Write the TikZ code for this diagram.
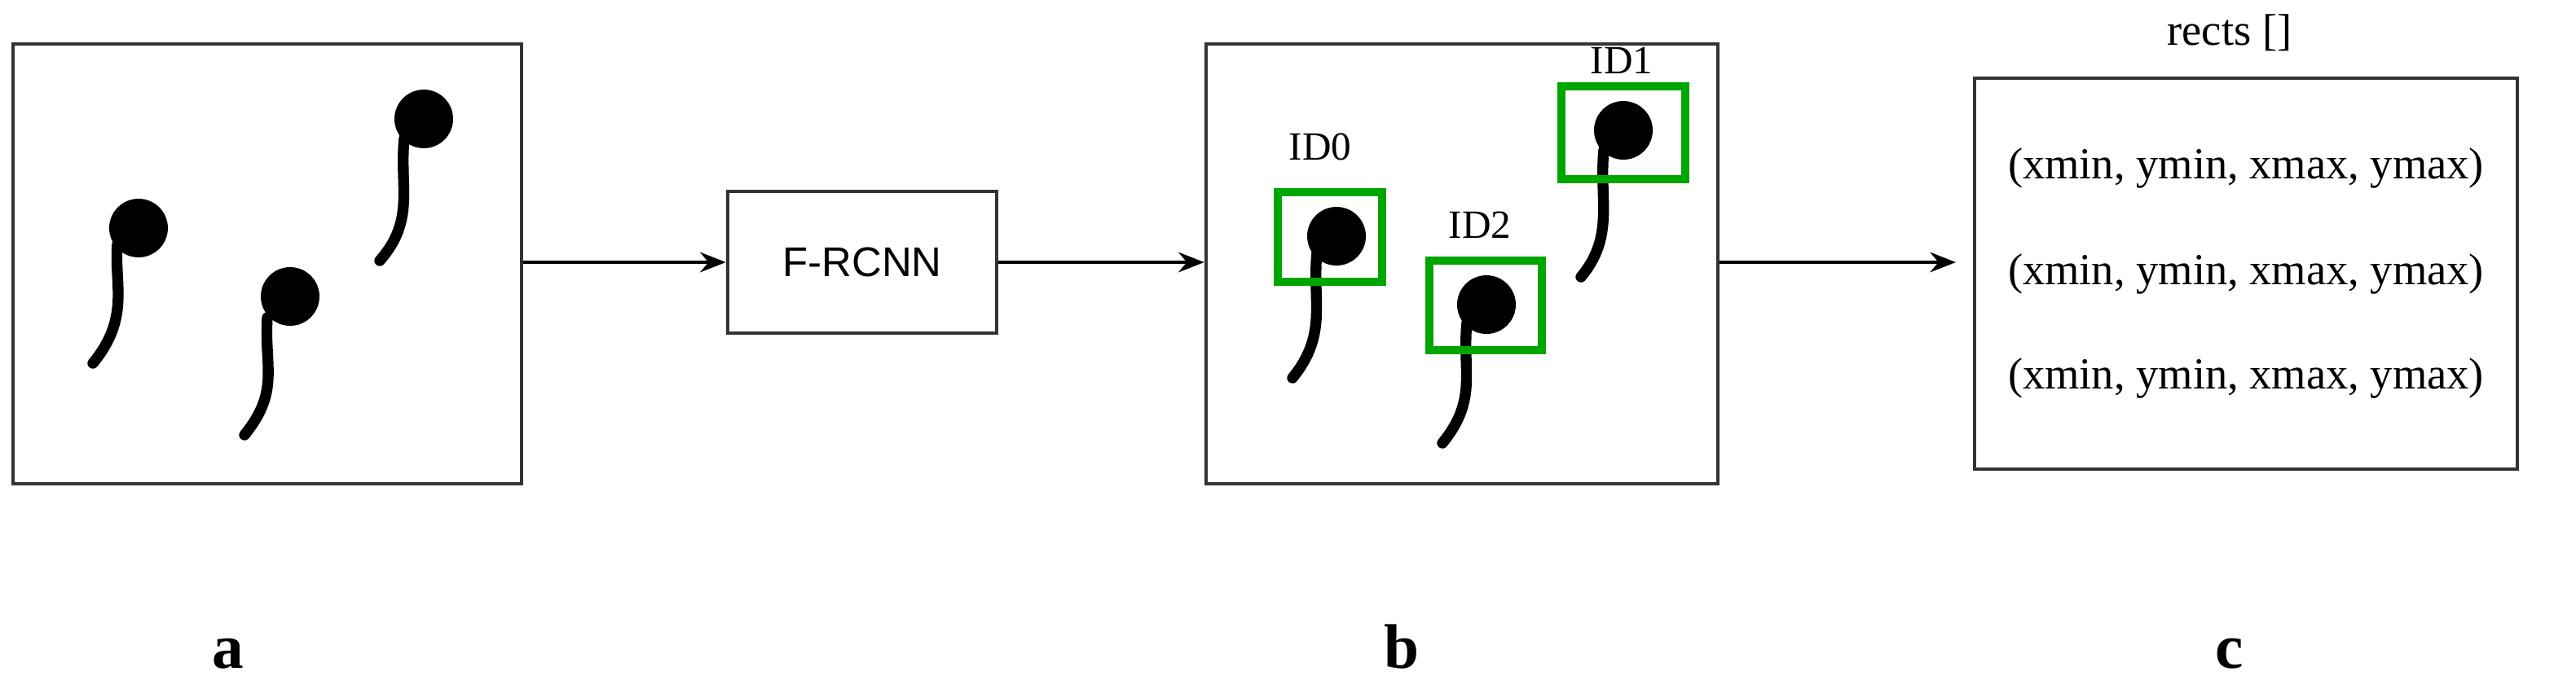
\documentclass[tikz,border=0pt]{standalone}
\usepackage{fontspec}
\setmainfont{Liberation Serif}
\newfontfamily\sansf{Liberation Sans}
\usetikzlibrary{arrows.meta}
\begin{document}
\begin{tikzpicture}[x=0.02cm,y=-0.02cm,
  frame/.style={draw=black!80,line width=1.3pt},
  arr/.style={-{Stealth[length=9pt,width=7pt]},line width=1.2pt},
  tail/.style={line width=3.8pt,line cap=round},
  gbox/.style={draw=green!65!black,line width=3pt},
  lab/.style={font=\fontsize{15.5}{17}\selectfont},
  big/.style={font=\fontsize{22}{24}\selectfont\bfseries,anchor=base,inner sep=0pt}]
\useasboundingbox (0,0) rectangle (1580.5,422.5);
\node[frame,minimum width=312*0.02cm,minimum height=270*0.02cm] (a) at (164,162) {};
\node[frame,minimum width=165*0.02cm,minimum height=87*0.02cm,font=\sansf\fontsize{14.5}{16}\selectfont] (f) at (529,161) {F-RCNN};
\node[frame,minimum width=314*0.02cm,minimum height=270*0.02cm] (b) at (897,162) {};
\node[frame,minimum width=333*0.02cm,minimum height=240*0.02cm] (c) at (1378,168) {};
\coordinate (ce) at (1200,161);
\draw[arr] (a.east|-f.west) -- (f.west);
\draw[arr] (f.east) -- (b.west|-f.east);
\draw[arr] (b.east|-f.east) -- (ce);
\node[lab] (rt) at (1368,20) {rects []};
\node[lab] (r1) at (1378,103) {(xmin, ymin, xmax, ymax)};
\node[lab] (r2) at (1378,168) {(xmin, ymin, xmax, ymax)};
\node[lab] (r3) at (1378,232) {(xmin, ymin, xmax, ymax)};
% sperm in a
\draw[tail] (72,150) .. controls (70,175) and (80,195) .. (57,223);
\fill (85,140) circle (0.36cm);
\draw[tail] (164,195) .. controls (162,225) and (172,240) .. (150,267);
\fill (178,182) circle (0.36cm);
\draw[tail] (248,85) .. controls (245,115) and (255,135) .. (233,160);
\fill (260,73) circle (0.36cm);
% sperm in b
\draw[tail] (808,155) .. controls (805,185) and (815,205) .. (793,232);
\fill (820,145) circle (0.36cm);
\draw[tail] (900,198) .. controls (897,228) and (907,245) .. (885,272);
\fill (912,187) circle (0.36cm);
\draw[tail] (984,92) .. controls (981,122) and (991,145) .. (970,170);
\fill (996,80) circle (0.36cm);
\draw[gbox] (784,118) rectangle (848,173);
\draw[gbox] (877,160) rectangle (946,215);
\draw[gbox] (958,53) rectangle (1034,110);
\node[lab,font=\fontsize{14}{15}\selectfont] (id0) at (810,90) {ID0};
\node[lab,font=\fontsize{14}{15}\selectfont] (id2) at (908,138) {ID2};
\node[lab,font=\fontsize{14}{15}\selectfont] (id1) at (995,37) {ID1};
\node[big] (la) at (140,410) {a};
\node[big] (lb) at (860,410) {b};
\node[big] (lc) at (1368,410) {c};
\end{tikzpicture}
\end{document}
